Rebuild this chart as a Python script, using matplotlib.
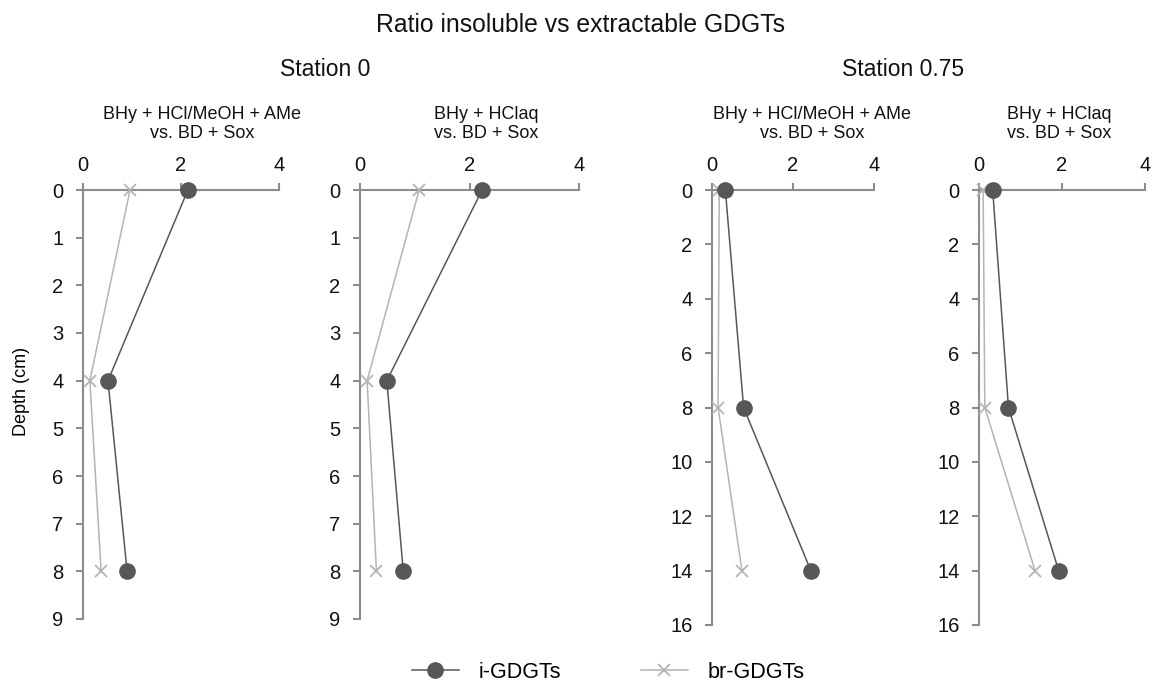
import matplotlib.pyplot as plt
from matplotlib.lines import Line2D

plt.rcParams['font.family'] = ['Liberation Sans', 'DejaVu Sans']

# Depths (cm) per station
depth_st0 = [0, 4, 8]
depth_st075 = [0, 8, 14]

# Ratio insoluble / extractable
i_st0_meoh = [2.14, 0.51, 0.90]
br_st0_meoh = [0.96, 0.14, 0.37]
i_st0_hclaq = [2.23, 0.49, 0.79]
br_st0_hclaq = [1.08, 0.13, 0.30]
i_st075_meoh = [0.33, 0.78, 2.44]
br_st075_meoh = [0.18, 0.15, 0.74]
i_st075_hclaq = [0.33, 0.71, 1.92]
br_st075_hclaq = [0.10, 0.14, 1.35]

panel_titles = ["BHy + HCl/MeOH + AMe\nvs. BD + Sox", "BHy + HClaq\nvs. BD + Sox",
                "BHy + HCl/MeOH + AMe\nvs. BD + Sox", "BHy + HClaq\nvs. BD + Sox"]

I_COL = "#555759"
BR_COL = "#b4b4b4"
SPINE = "#8c8c8c"
W, H = 1157, 690

fig = plt.figure(figsize=(W / 100, H / 100), dpi=100)


def px_axes(x0, x1, ytop, ybot):
    return fig.add_axes([x0 / W, 1 - ybot / H, (x1 - x0) / W, (ybot - ytop) / H])


panels = [
    (px_axes(83, 279, 190, 619), depth_st0, i_st0_meoh, br_st0_meoh, 9, range(0, 10), 202),
    (px_axes(360, 579, 190, 619), depth_st0, i_st0_hclaq, br_st0_hclaq, 9, range(0, 10), 486),
    (px_axes(712, 874, 190, 625), depth_st075, i_st075_meoh, br_st075_meoh, 16, range(0, 17, 2), 812),
    (px_axes(979, 1145, 190, 625), depth_st075, i_st075_hclaq, br_st075_hclaq, 16, range(0, 17, 2), 1059),
]

for k, (ax, depth, iv, brv, ymax, yt, tx) in enumerate(panels):
    ax.plot(brv, depth, color=BR_COL, lw=1.1, marker='x', ms=9, mew=1.3, clip_on=False, zorder=3)
    ax.plot(iv, depth, color=I_COL, lw=1.1, marker='o', ms=11, clip_on=False, zorder=4)
    ax.set_xlim(0, 4)
    ax.set_ylim(ymax, 0)
    ax.set_xticks([0, 2, 4])
    ax.set_yticks(list(yt))
    ax.xaxis.tick_top()
    for s in ['bottom', 'right']:
        ax.spines[s].set_visible(False)
    for s in ['top', 'left']:
        ax.spines[s].set_color(SPINE)
        ax.spines[s].set_linewidth(1.5)
    ax.tick_params(colors=SPINE, labelcolor='#111111', labelsize=14.5, width=1.5, length=5)
    ax.tick_params(axis='x', pad=6)
    ax.tick_params(axis='y', pad=9)
    ax.patch.set_visible(False)
    fig.text(tx / W, 1 - 124 / H, panel_titles[k], ha='center', va='center',
             fontsize=13, linespacing=1.2, color='#111111')

panels[0][0].set_ylabel("Depth (cm)", fontsize=13)
panels[0][0].yaxis.set_label_coords(-0.27, 0.53)

fig.text(580 / W, 1 - 25 / H, "Ratio insoluble vs extractable GDGTs", ha='center', va='center',
         fontsize=17.8, color='#111111')
fig.text(325 / W, 1 - 70 / H, "Station 0", ha='center', va='center', fontsize=16.5, color='#111111')
fig.text(903 / W, 1 - 70 / H, "Station 0.75", ha='center', va='center', fontsize=16.5, color='#111111')

handles = [Line2D([], [], color=I_COL, lw=1.1, marker='o', ms=11),
           Line2D([], [], color=BR_COL, lw=1.1, marker='x', ms=9, mew=1.3)]
fig.legend(handles, ["i-GDGTs", "br-GDGTs"], loc='center', bbox_to_anchor=(608 / W, 1 - 672 / H),
           ncol=2, frameon=False, fontsize=15.5, handlelength=2.2, handletextpad=0.9, columnspacing=3.7)

fig.savefig("out.png", dpi=100)
